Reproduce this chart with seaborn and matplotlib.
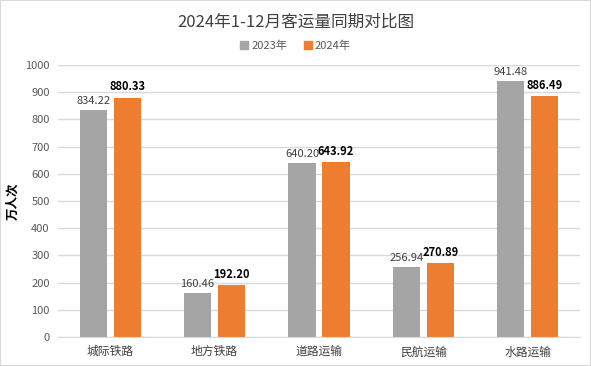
import numpy as np
import pandas as pd
import seaborn as sns
import matplotlib.pyplot as plt
from matplotlib.patches import Rectangle

categories = ['城际铁路', '地方铁路', '道路运输', '民航运输', '水路运输']
years = ['2023年', '2024年']
values_2023 = [834.22, 160.46, 640.20, 256.94, 941.48]
values_2024 = [880.33, 192.20, 643.92, 270.89, 886.49]

df = pd.DataFrame({
    'cat': categories * 2,
    'year': [years[0]] * 5 + [years[1]] * 5,
    'val': values_2023 + values_2024,
})

sns.set_style('white')
plt.rcParams['font.family'] = ['Noto Sans CJK SC', 'DejaVu Sans']

fig = plt.figure(figsize=(5.91, 3.66), dpi=100)
fig.patches.append(Rectangle((0, 0), 1, 1, transform=fig.transFigure, fill=False,
                             edgecolor='#D9D9D9', linewidth=1.5))
ax = fig.add_axes([58 / 591, 1 - 337 / 366, (580 - 58) / 591, (337 - 65) / 366])

palette = {'2023年': '#A5A5A5', '2024年': '#ED7D31'}
sns.barplot(df, x='cat', y='val', hue='year', palette=palette, ax=ax,
            width=0.65, gap=0.2, saturation=1, legend=False, linewidth=0)

ax.set_ylim(0, 1000)
ax.set_xlim(-0.5, 4.5)
ax.set_yticks(np.arange(0, 1001, 100))
ax.yaxis.grid(True, color='#D9D9D9', linewidth=1)
ax.set_axisbelow(True)
for s in ['top', 'right', 'left']:
    ax.spines[s].set_visible(False)
ax.spines['bottom'].set_color('#D9D9D9')
ax.tick_params(axis='y', length=0, labelsize=8, labelcolor='#595959', pad=6)
ax.tick_params(axis='x', length=0, labelsize=8.5, labelcolor='#404040', pad=6)
ax.set_xticks(np.arange(-0.5, 5, 1), minor=True)
ax.tick_params(axis='x', which='minor', length=5, color='#D9D9D9')
ax.set_xlabel('')
ax.set_ylabel('万人次', fontsize=9, fontweight='bold', color='#000000', labelpad=4)

conts = ax.containers
ax.bar_label(conts[0], labels=[f'{v:.2f}' for v in values_2023], padding=3,
             fontsize=8, color='#404040')
ax.bar_label(conts[1], labels=[f'{v:.2f}' for v in values_2024], padding=3,
             fontsize=8, fontweight='bold', color='#000000')

fig.text(0.5, 1 - 22 / 366, '2024年1-12月客运量同期对比图', ha='center', va='center',
         fontsize=12, color='#404040')
handles = [Rectangle((0, 0), 1, 1, color=palette[y]) for y in years]
fig.legend(handles, years, loc='center', bbox_to_anchor=(0.5, 1 - 46 / 366), ncol=2,
           frameon=False, fontsize=8, handlelength=0.7, handleheight=0.7,
           handletextpad=0.3, columnspacing=1.5, labelcolor='#595959')

fig.savefig('out.png', dpi=100)
